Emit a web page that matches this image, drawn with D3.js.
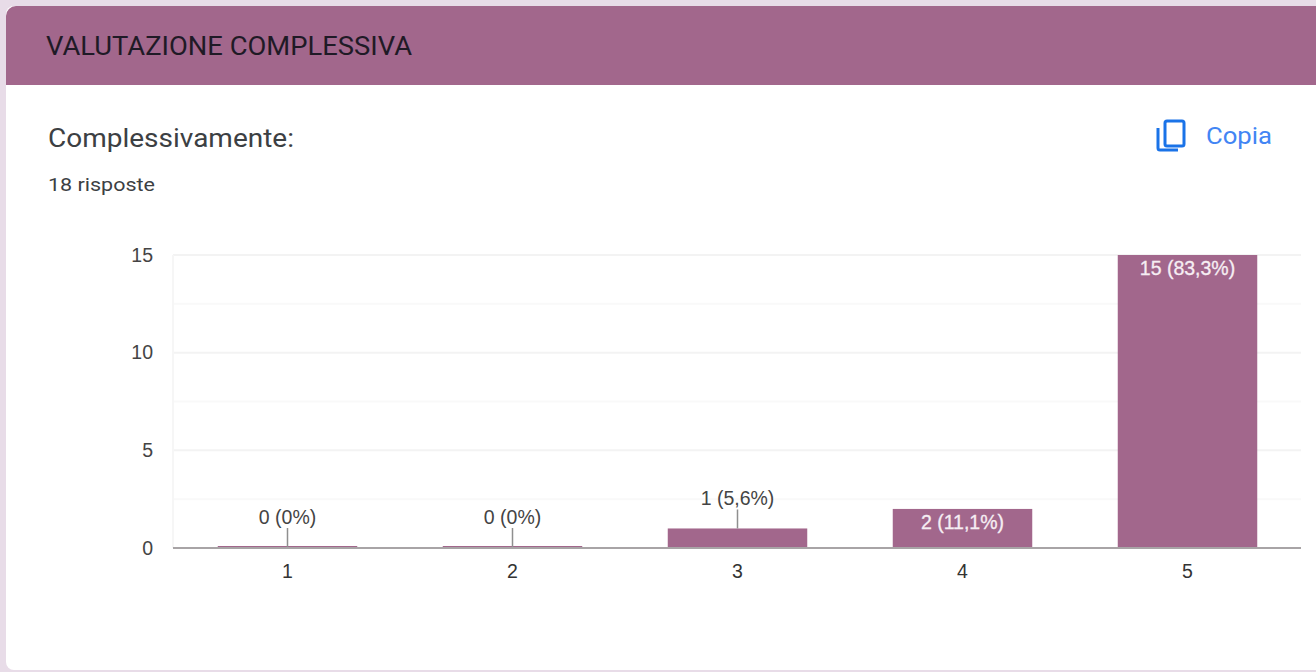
<!DOCTYPE html>
<html lang="it">
<head>
<meta charset="utf-8">
<title>Valutazione complessiva</title>
<script src="https://cdn.jsdelivr.net/npm/d3@7"></script>
<style>
  html, body { margin: 0; padding: 0; background: #e8dce8; overflow: hidden; }
  svg { display: block; }
  .ui-text { font-family: Roboto, Arial, sans-serif; }
  .chart-text { font-family: "Liberation Sans", Arial, sans-serif; font-size: 19.5px; }
</style>
</head>
<body>
<div id="chart"></div>
<script>
// Chart data
const categories = ['1', '2', '3', '4', '5'];
const counts = [0, 0, 1, 2, 15];
const valueLabels = ['0 (0%)', '0 (0%)', '1 (5,6%)', '2 (11,1%)', '15 (83,3%)'];
const majorTicks = [0, 5, 10, 15];
const gridTicks = [2.5, 5, 7.5, 10, 12.5, 15];

const sectionTitle = 'VALUTAZIONE COMPLESSIVA';
const questionTitle = 'Complessivamente:';
const answersText = '18 risposte';
const copyText = 'Copia';

const width = 1316;
const height = 672;
const accent = '#a2678c';
const margin = { top: 255, right: 15, bottom: 124, left: 173 };

const svg = d3.select('#chart').append('svg')
    .attr('width', width)
    .attr('height', height);

// Card and header
svg.append('rect')
    .attr('x', 6).attr('y', 6)
    .attr('width', width + 20).attr('height', 664)
    .attr('rx', 8)
    .attr('fill', '#ffffff');

svg.append('path')
    .attr('d', `M6,85V16a10,10 0 0 1 10,-10H${width}V85Z`)
    .attr('fill', accent);

// Header and question texts, stretched to the measured widths
const addLabel = (label, xPos, yPos, size, color, length) => svg.append('text')
    .attr('class', 'ui-text')
    .attr('x', xPos).attr('y', yPos)
    .attr('font-size', size)
    .attr('fill', color)
    .attr('textLength', length)
    .attr('lengthAdjust', 'spacingAndGlyphs')
    .text(label);

addLabel(sectionTitle, 46, 55, 25, '#1f1a26', 366);
addLabel(questionTitle, 48, 147, 25, '#3c4043', 246);
addLabel(answersText, 48, 191, 19, '#3c4043', 107);

// Copy button
const copyIcon = svg.append('g')
    .attr('fill', 'none')
    .attr('stroke', '#1a73e8')
    .attr('stroke-width', 3);

copyIcon.append('rect')
    .attr('x', 1165).attr('y', 121)
    .attr('width', 19).attr('height', 25)
    .attr('rx', 2);

copyIcon.append('path')
    .attr('d', 'M1158,128V148a2,2 0 0 0 2,2H1178');

addLabel(copyText, 1206, 144, 24, '#4285f4', 66);

// Scales
const x = d3.scaleBand()
    .domain(categories)
    .range([margin.left + 2, width - margin.right - 1])
    .paddingInner(0.38)
    .paddingOuter(0.19);

const y = d3.scaleLinear()
    .domain([0, 15])
    .range([height - margin.bottom, margin.top]);

// Grid lines
svg.append('g')
    .selectAll('line')
    .data(gridTicks)
    .enter()
    .append('line')
    .attr('x1', margin.left)
    .attr('x2', width - margin.right)
    .attr('y1', d => y(d))
    .attr('y2', d => y(d))
    .attr('stroke', d => majorTicks.includes(d) ? '#f3f3f3' : '#f9f9f9')
    .attr('stroke-width', 2);

svg.append('line')
    .attr('x1', margin.left)
    .attr('x2', margin.left)
    .attr('y1', y(15))
    .attr('y2', y(0))
    .attr('stroke', '#f6f6f6')
    .attr('stroke-width', 2);

// Y axis
const yAxis = svg.append('g')
    .attr('transform', `translate(${margin.left},0)`)
    .call(d3.axisLeft(y).tickValues(majorTicks).tickSize(0).tickPadding(20));
yAxis.select('.domain').remove();
yAxis.selectAll('text')
    .attr('class', 'chart-text')
    .attr('fill', '#444444');

// Bars, zero counts still show as a thin line on the baseline
svg.append('g')
    .selectAll('rect')
    .data(counts)
    .enter()
    .append('rect')
    .attr('x', (d, i) => x(categories[i]))
    .attr('y', d => d === 0 ? y(0) - 2 : y(d))
    .attr('width', x.bandwidth())
    .attr('height', d => d === 0 ? 2 : y(0) - y(d))
    .attr('fill', accent);

// X axis
const xAxis = svg.append('g')
    .attr('transform', `translate(0,${y(0)})`)
    .call(d3.axisBottom(x).tickSize(0).tickPadding(16));
xAxis.select('.domain')
    .attr('d', `M${margin.left},0H${width - margin.right}`)
    .attr('stroke', '#a8a4a6')
    .attr('stroke-width', 2);
xAxis.selectAll('text')
    .attr('class', 'chart-text')
    .attr('fill', '#333333');

// Value labels: inside the bar when it fits, else above with a leader line
const fitsInside = d => y(0) - y(d) > 30;
const center = i => x(categories[i]) + x.bandwidth() / 2;
const barTop = d => d === 0 ? y(0) - 1 : y(d);

counts.forEach((d, i) => {
    const inside = fitsInside(d);
    if (!inside) {
        svg.append('line')
            .attr('x1', center(i)).attr('x2', center(i))
            .attr('y1', barTop(d)).attr('y2', barTop(d) - 19)
            .attr('stroke', '#8f8f8f')
            .attr('stroke-width', 1.5);
    }
    svg.append('text')
        .attr('class', 'chart-text')
        .attr('x', center(i))
        .attr('y', inside ? y(d) + 20 : barTop(d) - 23)
        .attr('text-anchor', 'middle')
        .attr('fill', inside ? '#f6eef3' : '#444444')
        .attr('stroke', inside ? '#f6eef3' : 'none')
        .attr('stroke-width', inside ? 0.3 : 0)
        .text(valueLabels[i]);
});
</script>
</body>
</html>
